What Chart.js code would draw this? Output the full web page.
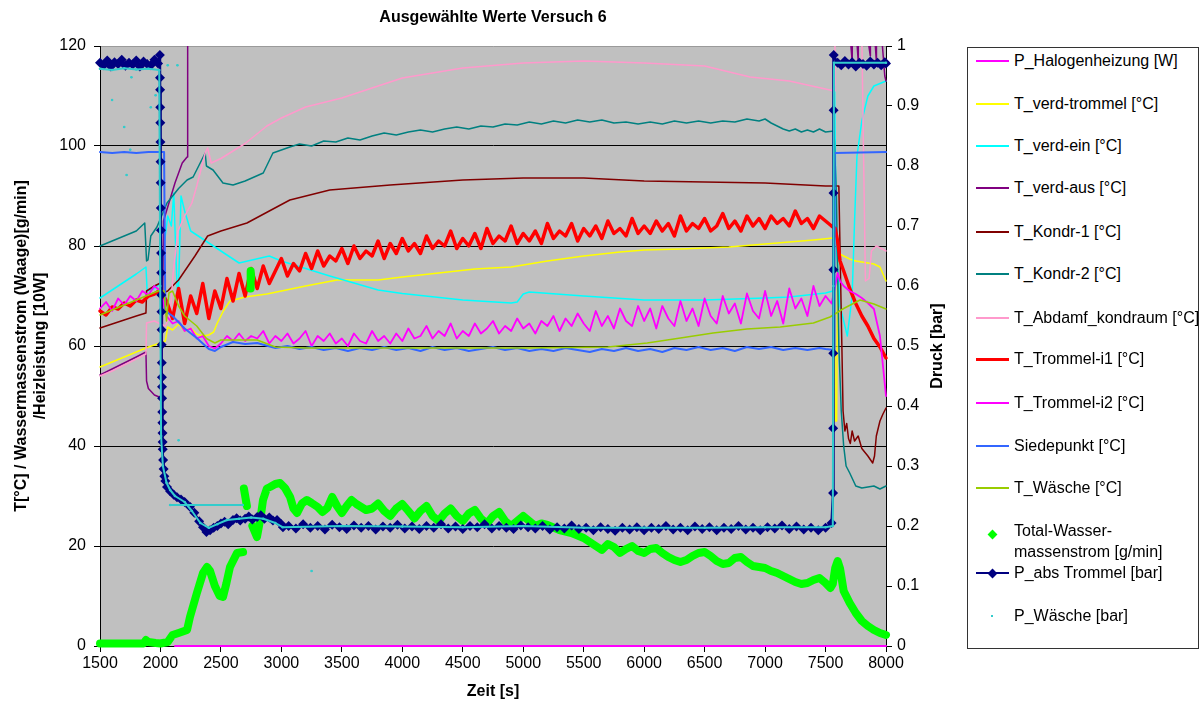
<!DOCTYPE html>
<html>
<head>
<meta charset="utf-8">
<script src="https://cdn.jsdelivr.net/npm/chart.js@4.4.0/dist/chart.umd.min.js"></script>
<style>
  body { margin: 0; background: #fff; font-family: "Liberation Sans", Arial, sans-serif; }
  #wrap { position: relative; width: 1200px; height: 713px; overflow: hidden; }
  #chart { position: absolute; left: 0; top: 0; }
  #legend { position: absolute; left: 967px; top: 47px; width: 232px; height: 602px; border: 1px solid #333; box-sizing: border-box; background: #fff; }
  .lg { position: absolute; font-size: 16px; line-height: 21px; color: #000; white-space: nowrap; }
  .sw { position: absolute; }
</style>
</head>
<body>
<div id="wrap">
  <canvas id="chart" width="1200" height="713"></canvas>
  <div id="legend"></div>
</div>
<script>
// --- DATA (x = Zeit [s]) ---
const timeTicks = [1500, 2000, 2500, 3000, 3500, 4000, 4500, 5000, 5500, 6000, 6500, 7000, 7500, 8000];
const tempTicks = [0, 20, 40, 60, 80, 100, 120];
const pressureTicks = [0, 0.1, 0.2, 0.3, 0.4, 0.5, 0.6, 0.7, 0.8, 0.9, 1];

const seriesNames = ['P_Halogenheizung [W]', 'T_verd-trommel [°C]', 'T_verd-ein [°C]', 'T_verd-aus [°C]',
  'T_Kondr-1 [°C]', 'T_Kondr-2 [°C]', 'T_Abdamf_kondraum [°C]', 'T_Trommel-i1 [°C]', 'T_Trommel-i2 [°C]',
  'Siedepunkt [°C]', 'T_Wäsche [°C]', 'Total-Wasser-massenstrom [g/min]', 'P_abs Trommel [bar]', 'P_Wäsche [bar]'];
const seriesColors = ['#FF00FF', '#FFFF00', '#00FFFF', '#800080', '#800000', '#008080', '#FF99CC',
  '#FF0000', '#FF00FF', '#3366FF', '#99CC00', '#00FF00', '#000080', '#33CCCC'];

const halogenTime = [2120, 8000];
const halogenValue = [0, 0];

const verdTrommelTime = [1500,1600,1700,1800,1900,2000,2040,2060,2100,2150,2200,2250,2300,2350,2400,2440,2470,2520,2575,2700,
  2880,3000,3200,3460,3800,4000,4300,4600,4900,5200,5500,5800,6000,6300,6700,7000,7200,7400,7560,7575,
  7580,7592,7600,7650,7700,7750,7800,7850,7900,7950,8000];
const verdTrommelValue = [55.8,56.8,57.8,58.8,59.8,60.6,61.0,63.8,63.2,64.4,63.0,63.6,62.4,62.0,62.2,62.8,64.6,67.0,69.0,69.8,
  70.4,71.0,72.0,73.2,73.2,73.8,74.6,75.4,75.8,77.0,78.0,78.8,79.2,79.4,79.8,80.4,80.8,81.2,81.6,81.6,
  45.0,45.0,78.6,78.0,77.4,77.0,76.8,76.6,76.4,75.8,73.0];

const verdEinTime = [1500,1600,1700,1800,1880,1890,1950,2000,2030,2060,2090,2110,2125,2140,2150,2170,2200,2250,2400,2650,
  2900,3000,3400,3800,4000,4500,4900,4950,5000,5050,5500,6000,6500,7000,7200,7500,7560,7575,7590,7620,
  7680,7720,7740,7760,7800,7850,7900,8000];
const verdEinValue = [69.6,71.2,72.8,74.4,75.8,71.0,71.5,72.5,80.0,86.0,84.0,90.6,80.0,70.0,72.0,90.0,87.0,83.0,80.6,76.6,
  78.0,77.0,74.0,71.2,70.5,69.2,68.6,68.8,70.4,70.8,70.0,69.2,69.2,69.6,69.8,70.6,71.0,112.0,80.0,68.0,
  62.0,70.0,85.0,98.0,105.0,110.0,112.0,113.0];

const verdAusTime = [1500,1600,1700,1800,1880,1885,1900,1950,1990,2010,2025,2050,2120,2180,2220,2225,
  7660,7720,7721,7770,7771,7870,7871,7920,7921,7990,8000];
const verdAusValue = [54.2,55.4,56.6,57.8,58.8,53.0,51.5,50.2,49.8,49.2,85.0,87.0,92.6,96.6,97.8,140,
  135,117,135,117,135,118,135,117,135,114,113];

const kondr1Time = [1500,1600,1700,1800,1880,1885,1950,2000,2020,2060,2100,2150,2285,2390,2500,2715,2900,3070,3400,3900,
  4500,5000,5500,6000,6500,7000,7500,7610,7635,7645,7660,7675,7690,7705,7720,7740,7770,7800,7850,7890,
  7905,7920,7950,7975,8000];
const kondr1Value = [63.6,64.4,65.2,66.0,66.6,71.0,72.0,72.6,70.6,71.0,72.0,73.2,78.0,82.0,83.0,84.6,87.0,89.2,91.2,92.2,
  93.2,93.6,93.6,93.0,92.8,92.6,92.0,92.0,60.0,47.0,43.0,44.5,41.5,40.5,43.0,41.0,42.0,39.5,38.0,36.6,
  38.0,42.0,45.0,46.4,47.6];

const kondr2Time = [1500,1600,1700,1800,1870,1885,1897,1920,1971,2054,2150,2220,2270,2370,2380,2435,2517,2600,2700,2850,
  2930,3070,3150,3250,3350,3450,3550,3650,3750,3850,3950,4050,4150,4250,4350,4450,4550,4650,4750,4850,
  4950,5050,5150,5250,5350,5450,5550,5650,5750,5850,5950,6050,6150,6250,6350,6450,6550,6650,6750,6850,
  6950,7000,7050,7100,7150,7200,7250,7300,7350,7400,7450,7500,7570,7590,7610,7630,7650,7670,7700,7750,
  7800,7900,7950,8000];
const kondr2Value = [80.0,81.0,82.0,83.0,84.6,77.0,77.2,82.0,83.8,88.6,91.5,93.2,93.8,98.6,96.0,95.2,92.6,92.2,93.0,94.6,
  98.6,99.8,100.4,100.0,101.0,100.8,101.6,101.2,102.0,102.6,102.2,102.8,103.2,102.8,103.4,103.8,103.4,104.0,103.8,104.4,
  104.2,104.8,104.4,105.0,104.6,105.2,104.8,105.2,104.6,104.8,104.4,104.8,104.4,105.0,104.6,105.0,104.6,105.0,104.8,105.4,
  105.0,105.4,104.6,104.0,103.4,103.0,103.4,102.8,103.2,102.8,103.4,102.8,103.0,90.0,60.0,47.0,40.0,36.0,34.6,32.0,
  31.6,32.0,31.4,32.0];

const abdampfTime = [1500,1600,1700,1800,1880,1885,1950,2000,2040,2080,2105,2145,2200,2260,2300,2370,2390,2420,2500,2700,
  2880,3000,3200,3500,4000,4500,5000,5500,6000,6500,6876,7200,7537,7570,7578,7795,7830,7860,7880,7920,8000];
const abdampfValue = [54.0,55.0,56.2,57.4,58.4,64.6,65.0,64.4,64.0,66.0,74.6,83.0,86.0,88.6,92.0,98.6,99.6,96.6,97.5,100.5,
  104.0,105.6,107.8,109.6,113.6,115.6,116.6,117.0,116.6,116.0,113.8,113.0,111.2,111.0,130.0,130.0,73.0,73.5,79.0,80.0,79.0];

// T_Trommel-i1 and T_Trommel-i2 share one time grid
const drumTime = [1500,1550,1600,1650,1700,1750,1800,1850,1900,1950,
  2000,2050,2100,2150,2200,2250,2300,2350,2400,2450,
  2500,2550,2600,2650,2700,2750,2800,2850,2900,2950,
  3000,3050,3100,3150,3200,3250,3300,3350,3400,3450,
  3500,3550,3600,3650,3700,3750,3800,3850,3900,3950,
  4000,4050,4100,4150,4200,4250,4300,4350,4400,4450,
  4500,4550,4600,4650,4700,4750,4800,4850,4900,4950,
  5000,5050,5100,5150,5200,5250,5300,5350,5400,5450,
  5500,5550,5600,5650,5700,5750,5800,5850,5900,5950,
  6000,6050,6100,6150,6200,6250,6300,6350,6400,6450,
  6500,6550,6600,6650,6700,6750,6800,6850,6900,6950,
  7000,7050,7100,7150,7200,7250,7300,7350,7400,7450,
  7500,7550,
  7580,7600,7620,7650,7700,7750,7800,7850,7900,7950,8000];
const drum1Value = [67.0,66.2,67.8,67.4,68.6,68.0,69.2,68.8,70.0,70.4,
  71.2,69.0,65.5,71.5,64.5,70.0,66.5,72.5,65.5,71.0,
  67.5,73.5,69.0,74.5,70.0,75.5,71.5,76.0,72.5,75.0,
  77.5,74.0,76.5,75.0,78.5,75.5,79.0,76.0,78.0,77.0,
  79.5,76.5,80.0,77.5,79.0,78.0,81.0,77.5,80.5,78.5,
  81.5,79.0,80.5,78.5,82.0,79.5,81.0,80.0,83.0,79.5,
  81.5,80.0,82.5,79.5,83.5,80.5,82.0,81.0,84.0,80.5,
  82.5,81.0,83.0,80.5,84.5,81.5,83.0,82.0,84.5,81.0,
  83.5,82.0,84.0,81.5,85.0,82.5,83.5,82.0,85.5,82.5,
  84.0,82.5,85.0,83.0,84.5,82.0,86.0,83.0,84.5,83.5,
  85.5,83.0,84.0,86.5,83.5,85.0,83.0,86.0,84.0,85.5,
  83.5,86.0,84.5,85.5,84.0,87.0,84.5,85.5,83.5,86.0,
  85.0,84.0,
  83.5,81.0,77.0,75.0,71.5,68.5,66.0,64.0,61.5,59.8,57.6];
const drum2Value = [67.5,68.8,67.0,69.5,68.2,70.0,69.0,71.0,70.2,72.0,
  71.0,66.0,64.5,65.0,63.0,63.5,61.5,62.0,60.0,59.5,
  60.5,62.0,61.0,62.5,61.0,62.0,61.5,63.0,60.5,62.0,
  61.0,62.5,60.5,61.5,63.0,60.0,62.0,61.0,62.5,60.5,
  61.5,60.0,62.5,61.0,60.5,63.0,61.0,62.0,60.5,62.5,
  61.0,63.5,61.5,62.0,64.0,61.5,63.0,62.0,64.5,61.5,
  63.0,62.0,64.5,62.5,63.5,65.0,62.5,64.0,63.0,65.5,
  63.5,64.5,62.5,65.0,64.0,66.0,63.0,65.5,64.0,66.5,
  64.5,63.0,67.0,64.0,66.0,63.5,67.5,65.0,64.0,68.0,
  65.0,67.5,63.5,68.0,65.5,64.0,69.0,65.0,67.5,64.0,
  69.5,66.0,64.5,70.0,66.5,68.5,64.5,70.5,67.0,65.5,
  71.0,66.0,69.0,64.5,71.5,67.5,69.5,66.0,72.0,68.0,
  70.0,68.5,
  72.0,74.6,73.0,72.0,71.0,70.4,69.6,68.6,67.4,62.0,50.0];

const siedeTime = [1500,1600,1700,1800,1900,2000,2030,2040,2100,2200,2300,2400,2450,2500,2600,2700,2800,2950,3050,3150,
  3250,3350,3450,3550,3650,3750,3850,3950,4050,4150,4250,4350,4450,4550,4650,4750,4850,4950,5050,5150,
  5250,5350,5450,5550,5650,5750,5850,5950,6050,6150,6250,6350,6450,6550,6650,6750,6850,6950,7050,7150,
  7250,7350,7450,7500,7570,7575,8000];
const siedeValue = [98.8,98.6,98.8,98.6,98.8,98.8,98.8,67.0,66.0,63.5,61.6,59.4,59.0,59.8,60.8,60.4,60.6,59.6,60.0,59.4,
  59.8,59.2,59.6,59.0,59.6,59.2,59.8,59.2,59.6,59.0,59.8,59.2,59.6,59.0,59.4,59.8,59.2,59.6,59.0,59.4,
  59.0,59.6,59.2,58.8,59.4,59.0,59.6,59.0,59.4,58.8,59.6,59.2,59.8,59.2,59.6,59.0,59.8,59.4,59.8,59.2,
  59.6,59.2,59.6,59.4,59.2,98.6,98.8];

const waescheTime = [1500,1600,1700,1800,1900,2000,2030,2050,2070,2100,2150,2200,2300,2380,2450,2500,2600,2800,2950,3200,
  3500,4000,4500,5000,5700,6025,6300,6570,6850,7125,7400,7537,7650,7785,7900,8000];
const waescheValue = [66.2,67.2,68.2,69.2,70.2,71.2,71.0,65.0,70.6,71.0,68.0,66.0,64.0,61.5,60.6,61.2,61.2,61.2,59.8,59.6,
  59.6,59.6,59.6,59.6,59.8,60.6,61.6,62.6,63.4,63.8,64.6,65.8,67.5,69.2,68.4,67.4];

const waterTime = [1500,1800,1860,1880,1900,1960,2000,2060,2100,2150,2220,2244,2300,2352,2385,2410,2450,2490,2517,2545,
  2575,2633,2683,2686,2690,2715,2741,2742,2746,2750,2751,2760,2798,2830,2848,2880,2906,2950,2989,3030,
  3072,3100,3130,3170,3210,3250,3300,3340,3380,3420,3460,3500,3540,3580,3620,3660,3700,3750,3800,3850,
  3900,3950,4000,4050,4100,4150,4200,4250,4300,4350,4400,4450,4500,4550,4600,4650,4700,4750,4800,4850,
  4900,4950,5000,5050,5100,5150,5200,5300,5400,5500,5550,5600,5650,5700,5750,5800,5850,5900,5950,6000,
  6050,6100,6150,6200,6250,6300,6350,6400,6450,6500,6550,6600,6650,6700,6750,6800,6850,6900,6950,7000,
  7050,7100,7150,7200,7250,7300,7350,7400,7450,7500,7540,7560,7580,7600,7620,7650,7700,7750,7800,7850,
  7900,7950,8000];
const waterValue = [0.5,0.5,0.5,1.2,0.8,0.6,0.5,0.8,2.2,2.6,3.2,5.8,10.5,14.6,15.8,15.0,12.0,10.0,9.8,12.5,
  15.8,18.6,18.8,null,31.5,28.0,null,71.5,75.0,73.5,null,24.0,21.8,26.0,29.2,31.5,31.8,32.4,32.6,31.6,
  29.8,27.5,26.6,28.5,29.2,28.6,27.8,26.8,27.6,29.8,28.0,26.6,28.0,29.2,28.4,27.8,27.2,27.5,28.5,27.0,
  26.0,27.5,28.4,27.0,25.5,27.0,28.0,26.0,25.0,26.5,27.5,26.0,25.0,26.5,27.2,25.5,24.5,26.0,26.8,25.0,
  24.0,25.0,26.0,25.0,24.0,24.5,24.2,23.2,22.6,21.6,20.8,20.0,19.2,20.4,19.8,18.6,19.4,20.0,19.0,18.6,
  19.4,19.6,18.6,17.8,17.2,16.8,17.2,18.0,18.6,18.8,18.0,17.0,16.4,16.6,17.6,17.8,16.8,16.0,15.8,15.6,
  15.0,14.6,14.0,13.4,12.8,12.4,12.6,13.2,13.6,12.6,11.6,12.4,15.6,17.0,15.5,11.0,8.6,6.6,5.0,4.0,
  3.2,2.6,2.2];

// pressure series (right axis, bar)
const pAbsTime = [1500,1530,1560,1590,1620,1650,1680,1710,1740,1770,1800,1830,1860,1890,1920,1950,1980,1995,
  1996,1997,1998,1999,2000,2001,2002,2003,2004,2005,2006,2007,2008,2009,2010,2011,2012,2013,2014,2015,2016,2017,2018,2019,
  2022,2026,2032,2040,2054,2080,2110,2137,2170,2200,2244,2280,2320,2352,2380,2410,2440,2470,2500,2530,2560,2600,2630,2660,
  2700,2730,2760,2800,2830,2860,2900,2930,2964,3000,3013,
  3060,3120,3180,3240,3300,3360,3420,3480,3540,3600,3660,3720,3780,3840,3900,3960,4020,4080,4140,4200,
  4260,4320,4380,4440,4500,4560,4620,4680,4740,4800,4860,4920,4980,5040,5100,5160,5220,5280,5340,5400,
  5460,5520,5580,5640,5700,5760,5820,5880,5940,6000,6060,6120,6180,6240,6300,6360,6420,6480,6540,6600,
  6660,6720,6780,6840,6900,6960,7020,7080,7140,7200,7260,7320,7380,7440,7500,
  7550,7562,7563,7564,7565,7566,7567,7568,
  7600,7630,7660,7690,7720,7750,7780,7810,7840,7870,7900,7930,7960,7990,8000];
const pAbsValue = [0.972,0.968,0.976,0.966,0.973,0.970,0.977,0.967,0.972,0.969,0.976,0.966,0.974,0.970,0.968,0.977,0.971,0.985,
  0.947,0.927,0.898,0.872,0.840,0.807,0.772,0.730,0.693,0.655,0.622,0.585,0.557,0.527,0.502,0.472,0.448,0.432,0.413,0.390,0.372,0.355,0.340,0.328,
  0.310,0.295,0.283,0.275,0.265,0.258,0.252,0.248,0.244,0.240,0.232,0.222,0.208,0.198,0.190,0.193,0.197,0.200,0.204,0.207,0.203,0.210,0.213,0.209,
  0.212,0.216,0.211,0.215,0.218,0.212,0.214,0.209,0.210,0.203,0.198,
  0.200,0.196,0.203,0.197,0.200,0.194,0.202,0.198,0.195,0.201,0.197,0.200,0.194,0.199,0.197,0.202,0.196,0.199,0.195,0.200,
  0.197,0.203,0.196,0.199,0.195,0.200,0.198,0.203,0.196,0.200,0.197,0.195,0.201,0.198,0.196,0.200,0.194,0.198,0.196,0.201,
  0.195,0.197,0.193,0.198,0.195,0.192,0.197,0.194,0.198,0.193,0.197,0.195,0.200,0.194,0.197,0.193,0.199,0.195,0.198,0.193,
  0.197,0.195,0.200,0.194,0.197,0.193,0.198,0.196,0.201,0.195,0.199,0.194,0.197,0.193,0.197,
  0.205,0.255,0.363,0.488,0.627,0.755,0.893,0.985,
  0.972,0.968,0.975,0.969,0.973,0.966,0.972,0.970,0.967,0.974,0.969,0.972,0.968,0.973,0.971];

const pWaescheTime = [1500,1600,1700,1800,1900,1990,1998,2005,2020,2050,2080,2120,2200,2260,2330,2400,2470,2550,2650,2750,
  2850,2950,3010,3500,4000,4500,5000,5500,6000,6500,7000,7500,7560,7565,7570,8000,
  8000,2080,2680,2680,1600,1600,1700,1700,1720,1720,1750,1750,1760,1760,1920,1920,1960,1960,2060,2060,2140,2140,2150,2150,3250];
const pWaescheValue = [0.962,0.960,0.963,0.961,0.962,0.960,0.600,0.350,0.300,0.272,0.260,0.250,0.240,0.225,0.205,0.197,0.203,0.210,0.212,0.214,
  0.212,0.205,0.198,0.200,0.199,0.198,0.200,0.197,0.197,0.197,0.198,0.198,0.200,0.600,0.972,0.972,
  null,0.235,0.235,null,0.910,null,0.865,null,0.785,null,0.827,null,0.948,null,0.898,null,0.918,null,0.968,null,0.968,null,0.343,null,0.125];

// legend rows: vertical centre of each entry on the page
const legendRowY = [60, 103, 145, 187, 231, 273, 317, 358, 402, 445, 487, 530, 572, 615];

// --- CHART ---
const FONT = '"Liberation Sans", Arial, sans-serif';
Chart.defaults.font.family = FONT;
Chart.defaults.font.size = 16;
Chart.defaults.color = '#000';

function points(times, values) {
  return times.map((t, i) => ({ x: t, y: values[i] }));
}

const seriesData = [
  points(halogenTime, halogenValue),
  points(verdTrommelTime, verdTrommelValue),
  points(verdEinTime, verdEinValue),
  points(verdAusTime, verdAusValue),
  points(kondr1Time, kondr1Value),
  points(kondr2Time, kondr2Value),
  points(abdampfTime, abdampfValue),
  points(drumTime, drum1Value),
  points(drumTime, drum2Value),
  points(siedeTime, siedeValue),
  points(waescheTime, waescheValue),
  points(waterTime, waterValue),
  points(pAbsTime, pAbsValue),
  points(pWaescheTime, pWaescheValue)
];
const lineWidths = [2, 1.5, 1.5, 1.5, 1.5, 1.5, 1.5, 3.5, 1.8, 2, 1.5, 8, 2.5, 2];

const datasets = seriesData.map((data, i) => ({
  label: seriesNames[i],
  data: data,
  yAxisID: i >= 12 ? 'y1' : 'y',
  borderColor: seriesColors[i],
  backgroundColor: seriesColors[i],
  borderWidth: lineWidths[i],
  borderCapStyle: 'round',
  borderJoinStyle: 'round',
  pointRadius: 0,
  tension: 0,
  spanGaps: false,
  clip: { left: 5, top: 0, right: 5, bottom: 3 },
  order: 20 - i
}));
// P_abs Trommel: diamond markers
Object.assign(datasets[12], { pointRadius: 5, pointStyle: 'rectRot', pointBorderWidth: 0, pointBackgroundColor: '#000080' });
// P_Wäsche: small dots
Object.assign(datasets[13], { pointRadius: 1.3, pointBorderWidth: 0, pointBackgroundColor: '#33CCCC' });

const plotBackground = {
  id: 'plotBackground',
  beforeDraw(chart) {
    const { ctx, chartArea: a } = chart;
    ctx.save();
    ctx.fillStyle = '#fff';
    ctx.fillRect(0, 0, chart.width, chart.height);
    ctx.fillStyle = '#C0C0C0';
    ctx.fillRect(a.left, a.top, a.right - a.left, a.bottom - a.top);
    ctx.restore();
  }
};

const extraTexts = {
  id: 'extraTexts',
  afterDraw(chart) {
    const { ctx, chartArea: a } = chart;
    ctx.save();
    ctx.fillStyle = '#000';
    ctx.font = 'bold 16px ' + FONT;
    ctx.textAlign = 'center';
    ctx.textBaseline = 'middle';
    ctx.fillText('Ausgewählte Werte Versuch 6', (a.left + a.right) / 2, 18);
    ctx.translate(938, (a.top + a.bottom) / 2);
    ctx.rotate(-Math.PI / 2);
    ctx.fillText('Druck [bar]', 0, 0);
    ctx.restore();
  }
};

new Chart(document.getElementById('chart'), {
  type: 'line',
  data: { datasets: datasets },
  plugins: [plotBackground, extraTexts],
  options: {
    responsive: false,
    devicePixelRatio: 1,
    animation: false,
    layout: { padding: { left: 0, top: 46, right: 254, bottom: 0 } },
    plugins: { legend: { display: false }, title: { display: false }, tooltip: { enabled: false } },
    scales: {
      x: {
        type: 'linear',
        min: 1500,
        max: 8000,
        afterBuildTicks: s => { s.ticks = timeTicks.map(v => ({ value: v })); },
        afterFit: s => { s.height = 67; },
        ticks: { padding: 2, maxRotation: 0, autoSkip: false, callback: v => String(v) },
        grid: { drawOnChartArea: false, tickLength: 6, color: '#000', tickColor: '#000' },
        border: { color: '#000', width: 1 },
        title: { display: true, text: 'Zeit [s]', font: { weight: 'bold', size: 16 }, padding: { top: 0, bottom: 12 } }
      },
      y: {
        position: 'left',
        min: 0,
        max: 120,
        afterBuildTicks: s => { s.ticks = tempTicks.map(v => ({ value: v })); },
        afterFit: s => { s.width = 100; },
        ticks: { padding: 8, callback: v => String(v) },
        grid: {
          color: c => (c.tick && c.tick.value === 120 ? '#9a9a9a' : '#000'),
          tickColor: '#000',
          tickLength: 6,
          lineWidth: 1
        },
        border: { color: '#000', width: 1 },
        title: {
          display: true,
          text: ['T[°C] / Wassermassenstrom (Waage)[g/min]', '/Heizleistung [10W]'],
          font: { weight: 'bold', size: 16 },
          padding: { top: 12, bottom: 0 }
        }
      },
      y1: {
        position: 'right',
        min: 0,
        max: 1,
        afterBuildTicks: s => { s.ticks = pressureTicks.map(v => ({ value: v })); },
        afterFit: s => { s.width = 60; },
        ticks: { padding: 5, callback: v => String(v) },
        grid: { drawOnChartArea: false, tickLength: 6, color: '#000', tickColor: '#000' },
        border: { color: '#000', width: 1 }
      }
    }
  }
});

// --- LEGEND (HTML, right side) ---
const legendEl = document.getElementById('legend');
const box = { left: 967, top: 47 };
seriesNames.forEach((name, i) => {
  const cy = legendRowY[i] - box.top;
  const color = seriesColors[i];
  const text = document.createElement('div');
  text.className = 'lg';
  text.style.left = (1013 - box.left) + 'px';
  text.style.top = (cy - 11) + 'px';
  if (i === 11) {
    text.innerHTML = 'Total-Wasser-<br>massenstrom [g/min]';
  } else {
    text.textContent = name;
  }
  legendEl.appendChild(text);

  if (i === 11 || i === 12) {
    if (i === 12) {
      const ln = document.createElement('div');
      ln.className = 'sw';
      Object.assign(ln.style, { left: '8px', top: (cy - 1) + 'px', width: '33px', height: '2px', background: color });
      legendEl.appendChild(ln);
    }
    const dm = document.createElement('div');
    dm.className = 'sw';
    Object.assign(dm.style, {
      left: (991 - box.left - 3.5) + 'px', top: (cy + (i === 11 ? 3 : 0) - 3.5) + 'px',
      width: '7px', height: '7px', background: color, transform: 'rotate(45deg)'
    });
    legendEl.appendChild(dm);
  } else if (i === 13) {
    const dot = document.createElement('div');
    dot.className = 'sw';
    Object.assign(dot.style, { left: (991 - box.left - 1) + 'px', top: (cy - 1) + 'px', width: '2px', height: '2px', background: color });
    legendEl.appendChild(dot);
  } else {
    const lw = i === 7 ? 3 : 2;
    const ln = document.createElement('div');
    ln.className = 'sw';
    Object.assign(ln.style, { left: '8px', top: (cy - lw / 2) + 'px', width: '33px', height: lw + 'px', background: color });
    legendEl.appendChild(ln);
  }
});
</script>
</body>
</html>
